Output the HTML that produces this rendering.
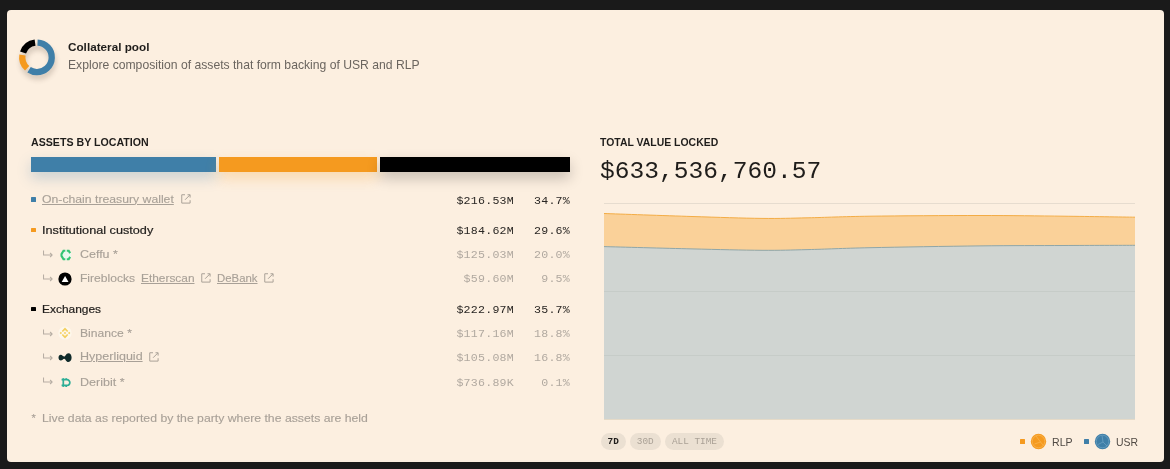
<!DOCTYPE html>
<html>
<head>
<meta charset="utf-8">
<title>Collateral pool</title>
<style>
html,body{margin:0;padding:0;}
body{width:1170px;height:469px;background:#1a1a1a;position:relative;overflow:hidden;font-family:"Liberation Sans",sans-serif;}
.card{position:absolute;left:6.8px;top:9.7px;width:1157.3px;height:452.8px;background:#fcefe0;border-radius:4px;}
.abs{position:absolute;white-space:nowrap;}
.sans{font-family:"Liberation Sans",sans-serif;}
.mono{font-family:"Liberation Mono",monospace;}
.t{position:absolute;white-space:nowrap;line-height:16px;height:16px;font-size:11.1px;transform-origin:0 50%;}
.dark{color:#1f1d1b;}
.grey{color:#a8a097;}
.t.grey{-webkit-text-stroke:0.12px #a8a097;}
.hd{-webkit-text-stroke:0.2px #1f1d1b;}
.num.grey{color:#b1a9a0;}
.num.dark{color:#2a2724;}
.lnk{text-decoration:underline;text-decoration-thickness:0.8px;text-underline-offset:1.2px;}
.num{position:absolute;white-space:nowrap;line-height:16px;height:16px;font-size:11.6px;letter-spacing:0.24px;font-family:"Liberation Mono",monospace;text-align:right;}
.sq{position:absolute;width:4.8px;height:4.8px;border-radius:0.5px;}
.btn{position:absolute;top:433px;height:17.4px;border-radius:9px;background:#ebe0d2;font-family:"Liberation Mono",monospace;font-size:9.4px;line-height:18.4px;text-align:center;color:#aaa196;}
</style>
</head>
<body>
<div class="card"></div>
<div id="layer" style="position:absolute;left:0;top:0;width:1170px;height:469px;will-change:transform;">

<!-- donut -->
<svg class="abs" style="left:12px;top:32px;" width="50" height="56" viewBox="0 0 50 56">
  <defs>
    <filter id="ds" x="-50%" y="-50%" width="200%" height="200%">
      <feGaussianBlur stdDeviation="2.6"/>
    </filter>
  </defs>
  <g transform="translate(25,25.3)">
    <g filter="url(#ds)" opacity="0.22" transform="translate(1,4.5)">
      <circle r="14.7" fill="none" stroke="#5a4a3a" stroke-width="6.5"/>
    </g>
    <g fill="none" stroke-width="6.3" transform="rotate(-90)">
      <circle r="14.75" stroke="#3f7fa8" stroke-dasharray="53.9 92.7" transform="rotate(2)"/>
      <circle r="14.75" stroke="#f59a1f" stroke-dasharray="14.6 92.7" transform="rotate(222)"/>
      <circle r="14.75" stroke="#000" stroke-dasharray="16.2 92.7" transform="rotate(289)"/>
    </g>
  </g>
</svg>

<div class="t dark" id="title" style="left:68.3px;top:39.2px;font-weight:bold;font-size:11.4px;letter-spacing:0px;transform:scaleX(1.029);transform-origin:0 50%;">Collateral pool</div>
<div class="t" id="sub" style="left:67.8px;top:56.9px;font-size:13px;color:#6b655f;transform:scaleX(0.9358);transform-origin:0 50%;">Explore composition of assets that form backing of USR and RLP</div>

<!-- left column -->
<div class="t dark" id="h1" style="left:30.76px;top:134px;font-weight:bold;font-size:11px;transform:scaleX(0.9658);transform-origin:0 50%;">ASSETS BY LOCATION</div>

<div class="abs" style="left:31px;top:157px;width:185px;height:15px;background:#3f7fa8;box-shadow:0 6px 14px rgba(63,127,168,0.28);"></div>
<div class="abs" style="left:219px;top:157px;width:157.5px;height:15px;background:#f59a1f;box-shadow:0 6px 14px rgba(245,154,31,0.28);"></div>
<div class="abs" style="left:380px;top:157px;width:190px;height:15px;background:#000;box-shadow:0 6px 14px rgba(0,0,0,0.22);"></div>


<!-- rows -->
<div class="sq" style="left:31.2px;top:197.2px;background:#3f7fa8;"></div>
<div class="t grey lnk" id="r1" style="left:42.10px;top:190.60px;transform:scaleX(1.1020);transform-origin:0 50%;">On-chain treasury wallet</div>
<svg class="abs ext" style="left:180.5px;top:193.65px;" width="10" height="10" viewBox="0 0 10 10"><use href="#ext"/></svg>
<div class="num dark" style="left:440px;width:74px;top:192.6px;">$216.53M</div>
<div class="num dark" style="left:520px;width:50px;top:192.6px;">34.7%</div>

<div class="sq" style="left:31.2px;top:227.6px;background:#f59a1f;"></div>
<div class="t dark hd" id="r2" style="left:42.31px;top:222.00px;transform:scaleX(1.1414);transform-origin:0 50%;">Institutional custody</div>
<div class="num dark" style="left:440px;width:74px;top:222.6px;">$184.62M</div>
<div class="num dark" style="left:520px;width:50px;top:222.6px;">29.6%</div>

<div class="t grey" id="r3" style="left:80.04px;top:245.80px;transform:scaleX(1.1227);transform-origin:0 50%;">Ceffu *</div>
<div class="num grey" style="left:440px;width:74px;top:247.1px;">$125.03M</div>
<div class="num grey" style="left:520px;width:50px;top:247.1px;">20.0%</div>

<div class="t grey" id="r4" style="left:79.79px;top:270.00px;transform:scaleX(1.0876);transform-origin:0 50%;">Fireblocks</div>
<div class="t grey lnk" id="r4b" style="left:141.00px;top:270.00px;transform:scaleX(1.0710);transform-origin:0 50%;">Etherscan</div>
<svg class="abs ext" style="left:200.9px;top:272.9px;" width="10" height="10" viewBox="0 0 10 10"><use href="#ext"/></svg>
<div class="t grey lnk" id="r4c" style="left:217.10px;top:270px;transform:scaleX(1.0265);transform-origin:0 50%;">DeBank</div>
<svg class="abs ext" style="left:263.6px;top:272.9px;" width="10" height="10" viewBox="0 0 10 10"><use href="#ext"/></svg>
<div class="num grey" style="left:440px;width:74px;top:271.1px;">$59.60M</div>
<div class="num grey" style="left:520px;width:50px;top:271.1px;">9.5%</div>

<div class="sq" style="left:31.2px;top:306.9px;width:4.6px;height:4.6px;background:#000;"></div>
<div class="t dark hd" id="r5" style="left:42.30px;top:300.80px;transform:scaleX(1.0754);transform-origin:0 50%;">Exchanges</div>
<div class="num dark" style="left:440px;width:74px;top:301.6px;">$222.97M</div>
<div class="num dark" style="left:520px;width:50px;top:301.6px;">35.7%</div>

<div class="t grey" id="r6" style="left:79.81px;top:325.00px;transform:scaleX(1.0919);transform-origin:0 50%;">Binance *</div>
<div class="num grey" style="left:440px;width:74px;top:326.1px;">$117.16M</div>
<div class="num grey" style="left:520px;width:50px;top:326.1px;">18.8%</div>

<div class="t grey lnk" id="r7" style="left:79.90px;top:347.70px;transform:scaleX(1.1279);transform-origin:0 50%;">Hyperliquid</div>
<svg class="abs ext" style="left:148.7px;top:351.9px;" width="10" height="10" viewBox="0 0 10 10"><use href="#ext"/></svg>
<div class="num grey" style="left:440px;width:74px;top:350.1px;">$105.08M</div>
<div class="num grey" style="left:520px;width:50px;top:350.1px;">16.8%</div>

<div class="t grey" id="r8" style="left:80.24px;top:373.90px;transform:scaleX(1.1278);transform-origin:0 50%;">Deribit *</div>
<div class="num grey" style="left:440px;width:74px;top:375px;">$736.89K</div>
<div class="num grey" style="left:520px;width:50px;top:375px;">0.1%</div>


<!-- sub-row arrows + icons -->
<svg class="abs" style="left:43px;top:249.5px;" width="11" height="9" viewBox="0 0 11 9"><use href="#arr"/></svg>
<svg class="abs" style="left:43px;top:273.7px;" width="11" height="9" viewBox="0 0 11 9"><use href="#arr"/></svg>
<svg class="abs" style="left:43px;top:328.7px;" width="11" height="9" viewBox="0 0 11 9"><use href="#arr"/></svg>
<svg class="abs" style="left:43px;top:353.2px;" width="11" height="9" viewBox="0 0 11 9"><use href="#arr"/></svg>
<svg class="abs" style="left:43px;top:377px;" width="11" height="9" viewBox="0 0 11 9"><use href="#arr"/></svg>

<!-- ceffu -->
<svg class="abs" style="left:58.5px;top:247.6px;" width="14" height="14" viewBox="-7 -7 14 14">
  <circle r="5.2" fill="#e9f8ee"/>
  <g fill="none" stroke="#31c473" stroke-width="2.1" stroke-linejoin="miter">
    <path d="M-0.7,-4.3 L-2.5,-4.3 L-4.5,-0.9 L-4.5,0.9 L-2.5,4.3 L-0.7,4.3"/>
    <path d="M0.8,-4.3 L2.7,-4.3 L4.1,-1.9"/>
    <path d="M4.1,1.9 L2.7,4.3 L0.8,4.3"/>
  </g>
</svg>
<!-- fireblocks -->
<svg class="abs" style="left:58.2px;top:271.9px;" width="14" height="14" viewBox="-7 -7 14 14">
  <circle r="6.6" fill="#000"/>
  <path d="M0.1,-3 L3.5,3 L-3.3,3 Z" fill="#fff"/>
</svg>
<!-- binance -->
<svg class="abs" style="left:58px;top:326px;" width="14" height="14" viewBox="-7 -7 14 14">
  <circle r="6.6" fill="#fdf7ec"/>
  <g fill="#f0b90b" opacity="0.62">
    <path d="M0,-5.4 L3.3,-2.1 L2.1,-0.9 L0,-3 L-2.1,-0.9 L-3.3,-2.1 Z"/>
    <path d="M0,5.4 L3.3,2.1 L2.1,0.9 L0,3 L-2.1,0.9 L-3.3,2.1 Z"/>
    <path d="M0,-1.25 L1.25,0 L0,1.25 L-1.25,0 Z"/>
    <path d="M-4.2,-1.2 L-3,0 L-4.2,1.2 L-5.4,0 Z"/>
    <path d="M4.2,-1.2 L5.4,0 L4.2,1.2 L3,0 Z"/>
  </g>
</svg>
<!-- hyperliquid -->
<svg class="abs" style="left:58.4px;top:352px;" width="14" height="11" viewBox="0 0 14 11">
  <path d="M0.5,5.6 C0.5,3.8 1.5,2.7 2.8,2.7 C4.3,2.7 5,4.5 6.3,4.5 C7.5,4.5 8,1.2 10.4,1.2 C12.5,1.2 13.6,3.3 13.6,5.6 C13.6,7.9 12.6,10 10.4,10 C8,10 7.5,6.7 6.3,6.7 C5,6.7 4.3,8.5 2.8,8.5 C1.5,8.5 0.5,7.4 0.5,5.6 Z" fill="#0f2a2a"/>
</svg>
<!-- deribit -->
<svg class="abs" style="left:60px;top:376.5px;" width="12" height="11" viewBox="0 0 12 11">
  <g fill="none" stroke="#2dae96" stroke-width="1.7">
    <path d="M1.6,2.7 H7 A2.85,2.85 0 0 1 7,8.4 H1.6"/>
    <path d="M3.3,1.2 V9.9"/>
    <path d="M6.2,1.2 V2.7 M6.2,8.4 V9.9"/>
  </g>
</svg>

<div class="t grey" id="fnstar" style="left:31.60px;top:410.10px;">*</div>
<div class="t grey" id="fn" style="left:41.60px;top:409.90px;transform:scaleX(1.1032);transform-origin:0 50%;">Live data as reported by the party where the assets are held</div>

<svg width="0" height="0" style="position:absolute">
  <defs>
    <g id="ext" fill="none" stroke="#aaa298" stroke-width="1">
      <path d="M4,0.75 H0.75 V9.1 H9.1 V6.2"/>
      <path d="M6.5,0.75 H9.1 V3.6 M8.9,0.95 L4.1,5.75"/>
    </g>
    <g id="arr" fill="none" stroke="#b7aea4" stroke-width="1.1">
      <path d="M0.5,0.5 V5 H9"/>
      <path d="M7.1,3 L9.1,5 L7.1,7"/>
    </g>
  </defs>
</svg>

<!-- chart -->
<div class="t dark" id="h2" style="left:600.25px;top:134.00px;font-weight:bold;font-size:11px;transform:scaleX(0.9497);transform-origin:0 50%;">TOTAL VALUE LOCKED</div>
<div class="abs mono dark" id="big" style="left:600.04px;top:155.5px;font-size:24.4px;line-height:32px;transform:scaleX(1.0072);transform-origin:0 50%;">$633,536,760.57</div>

<svg class="abs" style="left:603.7px;top:200px;" width="531" height="220" viewBox="0 0 531 220">
  <line x1="0" y1="3.5" x2="531" y2="3.5" stroke="#e6dccf" stroke-width="1"/>
  <path d="M0.0,13.5 C14.7,14.00 61.7,15.68 88.0,16.50 C114.3,17.32 138.7,18.18 158.0,18.40 C177.3,18.62 186.0,18.17 204.0,17.80 C222.0,17.43 237.3,16.58 266.0,16.20 C294.7,15.82 343.7,15.50 376.0,15.50 C408.3,15.50 434.2,15.92 460.0,16.20 C485.8,16.48 519.2,17.03 531.0,17.20 L531,219.4 L0,219.4 Z" fill="#fad199"/>
  <path d="M0.0,13.5 C14.7,14.00 61.7,15.68 88.0,16.50 C114.3,17.32 138.7,18.18 158.0,18.40 C177.3,18.62 186.0,18.17 204.0,17.80 C222.0,17.43 237.3,16.58 266.0,16.20 C294.7,15.82 343.7,15.50 376.0,15.50 C408.3,15.50 434.2,15.92 460.0,16.20 C485.8,16.48 519.2,17.03 531.0,17.20" fill="none" stroke="#f3ac45" stroke-width="1"/>
  <path d="M0.0,46.6 C14.7,46.98 61.7,48.28 88.0,48.90 C114.3,49.52 138.7,50.18 158.0,50.30 C177.3,50.42 186.0,50.03 204.0,49.60 C222.0,49.17 237.3,48.32 266.0,47.70 C294.7,47.08 343.7,46.27 376.0,45.90 C408.3,45.53 434.2,45.60 460.0,45.50 C485.8,45.40 519.2,45.33 531.0,45.30 L531,219.4 L0,219.4 Z" fill="#d0d5d2"/>
  <path d="M0.0,46.6 C14.7,46.98 61.7,48.28 88.0,48.90 C114.3,49.52 138.7,50.18 158.0,50.30 C177.3,50.42 186.0,50.03 204.0,49.60 C222.0,49.17 237.3,48.32 266.0,47.70 C294.7,47.08 343.7,46.27 376.0,45.90 C408.3,45.53 434.2,45.60 460.0,45.50 C485.8,45.40 519.2,45.33 531.0,45.30" fill="none" stroke="#8fa6a8" stroke-width="1"/>
  <line x1="0" y1="91.5" x2="531" y2="91.5" stroke="#c6ccc8" stroke-width="1"/>
  <line x1="0" y1="155.5" x2="531" y2="155.5" stroke="#c6ccc8" stroke-width="1"/>
</svg>

<div class="btn" style="left:601px;width:24.5px;color:#1f1d1b;font-weight:bold;">7D</div>
<div class="btn" style="left:630px;width:30.5px;">30D</div>
<div class="btn" style="left:665px;width:59px;">ALL TIME</div>


<!-- legend -->
<div class="sq" style="left:1020.3px;top:439.2px;background:#f59a1f;width:4.4px;height:4.4px;"></div>
<svg class="abs" style="left:1030px;top:433px;" width="17" height="17" viewBox="-8.5 -8.5 17 17">
  <circle r="7.7" fill="#f59a1f"/>
  <g fill="none" stroke="#f8b858" stroke-width="0.7"><circle r="6.3"/><path d="M-2.5,-5.5 L2,0.5 L5,4 M2,0.5 L-4,2.5"/></g>
</svg>
<div class="t" id="lg1" style="left:1051.58px;top:433.5px;font-size:11px;color:#504a44;transform:scaleX(0.9605);transform-origin:0 50%;">RLP</div>
<div class="sq" style="left:1084px;top:439.2px;background:#3f7fa8;width:4.7px;height:4.4px;"></div>
<svg class="abs" style="left:1094.2px;top:433px;" width="17" height="17" viewBox="-8.5 -8.5 17 17">
  <circle r="7.7" fill="#3f7fa8"/>
  <g fill="none" stroke="#6ea3c4" stroke-width="0.7"><circle r="6.3"/><path d="M-0.5,-6 L0.5,0.5 L4.5,4.5 M0.5,0.5 L-4.5,3"/></g>
</svg>
<div class="t" id="lg2" style="left:1115.79px;top:433.5px;font-size:11px;color:#504a44;transform:scaleX(0.9501);transform-origin:0 50%;">USR</div>

</div>
</body>
</html>
